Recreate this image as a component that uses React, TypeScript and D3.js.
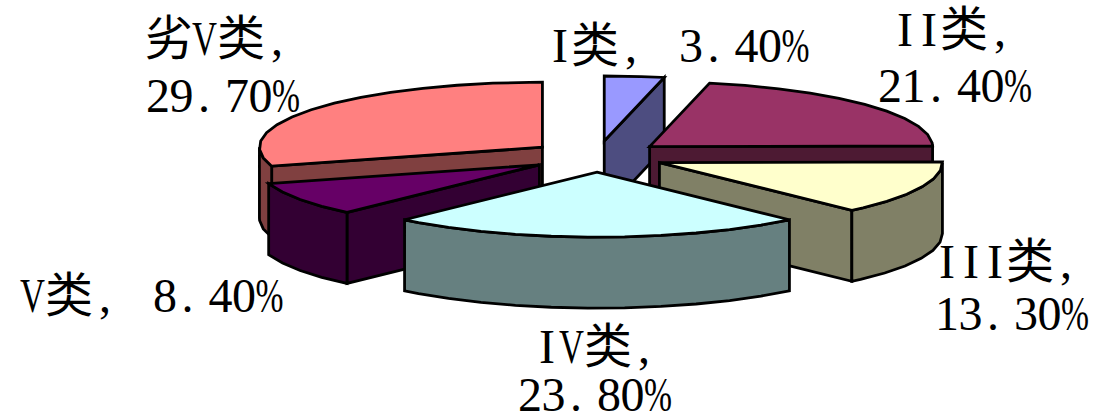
import * as d3 from 'd3';

const categories = ['I类', 'II类', 'III类', 'IV类', 'V类', '劣V类'];
const values = [3.4, 21.4, 13.3, 23.8, 8.4, 29.7];
const topColors = ['#9999ff', '#993366', '#ffffcc', '#ccffff', '#660066', '#ff8080'];
const sideColors = ['#4d4d80', '#4d1a33', '#808066', '#668080', '#330033', '#804040'];
// back to front
const drawOrder = [5, 0, 1, 4, 2, 3];

const cx = 597, cy = 156.5, rx = 283, ry = 65, depth = 71, explode = 0.24;
const STEP = 0.13;

const xs = d3.scaleLinear().domain([-1, 1]).range([cx - rx, cx + rx]);
const ys = d3.scaleLinear().domain([-1, 1]).range([cy + ry, cy - ry]);
const toPath = d3.line<[number, number]>().x(d => d[0]).y(d => d[1]);

const slices = d3.pie<number>().sort(null)(values);

function arcAngles(a0: number, a1: number) {
  return [...d3.range(a0, a1, STEP), a1];
}

function Slice({ i }: { i: number }) {
  const s = slices[i];
  const mid = (s.startAngle + s.endAngle) / 2;
  const ex = explode * Math.sin(mid), ey = explode * Math.cos(mid);
  const pt = (a: number, r = 1, dz = 0): [number, number] => [
    xs(r * Math.sin(a) + ex),
    ys(r * Math.cos(a) + ey) + dz,
  ];
  const closed = (pts: [number, number][]) => toPath(pts) + 'Z';

  const faces: string[] = [];
  // radial side faces, only the ones turned to the viewer
  const radial = (a: number) => closed([pt(a, 0), pt(a), pt(a, 1, depth), pt(a, 0, depth)]);
  if (Math.sin(s.startAngle) < -0.01) faces.push(radial(s.startAngle));
  if (Math.sin(s.endAngle) > 0.01) faces.push(radial(s.endAngle));
  // outer rim, front half only
  const a0 = Math.max(s.startAngle, Math.PI / 2);
  const a1 = Math.min(s.endAngle, (3 * Math.PI) / 2);
  if (a1 - a0 > 0.02) {
    const top = arcAngles(a0, a1).map(a => pt(a));
    const bottom = arcAngles(a0, a1).map(a => pt(a, 1, depth)).reverse();
    faces.push(closed([...top, ...bottom]));
  }
  const topFace = closed([pt(0, 0), ...arcAngles(s.startAngle, s.endAngle).map(a => pt(a))]);

  return (
    <g stroke="#000" strokeWidth={2.8} strokeLinejoin="miter">
      {faces.map((d, k) => <path key={k} d={d} fill={sideColors[i]} />)}
      <path d={topFace} fill={topColors[i]} />
    </g>
  );
}

/* the original font is a fixed-cell one, so glyphs are placed by hand */
const ADV: Record<string, number> = { I: 24, V: 26, ',': 46, ' ': 15, '.': 32, '%': 29 };
const FONT_SIZE = 48;

function Line({ x, y, text }: { x: number; y: number; text: string }) {
  let px = x;
  const spans = [...text].map((ch, k) => {
    const cjk = ch.charCodeAt(0) > 255;
    const adv = cjk ? 46 : ADV[ch] ?? 23.5;
    const off = ch === 'I' ? 4 : ch === ',' ? 7 : ch === '.' ? 5 : cjk ? -1 : 0;
    const squeeze = ch === 'V' ? 25 : ch === '%' ? 28 : undefined;
    const sp = (
      <tspan key={k} x={px + off} textLength={squeeze} lengthAdjust={squeeze ? 'spacingAndGlyphs' : undefined}>
        {ch}
      </tspan>
    );
    px += adv;
    return sp;
  });
  return (
    <text y={y} fontSize={FONT_SIZE} fill="#000" fontFamily="'Liberation Serif','Noto Sans CJK SC',serif" xmlSpace="preserve">
      {spans}
    </text>
  );
}

const pct = (v: number) => v.toFixed(2) + '%';

export default function App() {
  return (
    <svg width={1095} height={419} style={{ position: 'fixed', left: 0, top: 0, background: '#fff' }}>
      {drawOrder.map(i => <Slice key={i} i={i} />)}
      <Line x={548} y={62} text={`${categories[0]}, ${pct(values[0])}`} />
      <Line x={893} y={46} text={`${categories[1]},`} />
      <Line x={878} y={102} text={pct(values[1])} />
      <Line x={935} y={278} text={`${categories[2]},`} />
      <Line x={935} y={330} text={pct(values[2])} />
      <Line x={535} y={363} text={`${categories[3]},`} />
      <Line x={518} y={411} text={pct(values[3])} />
      <Line x={20} y={312} text={`${categories[4]}, ${pct(values[4])}`} />
      <Line x={146} y={55} text={`${categories[5]},`} />
      <Line x={146} y={112} text={pct(values[5])} />
    </svg>
  );
}
